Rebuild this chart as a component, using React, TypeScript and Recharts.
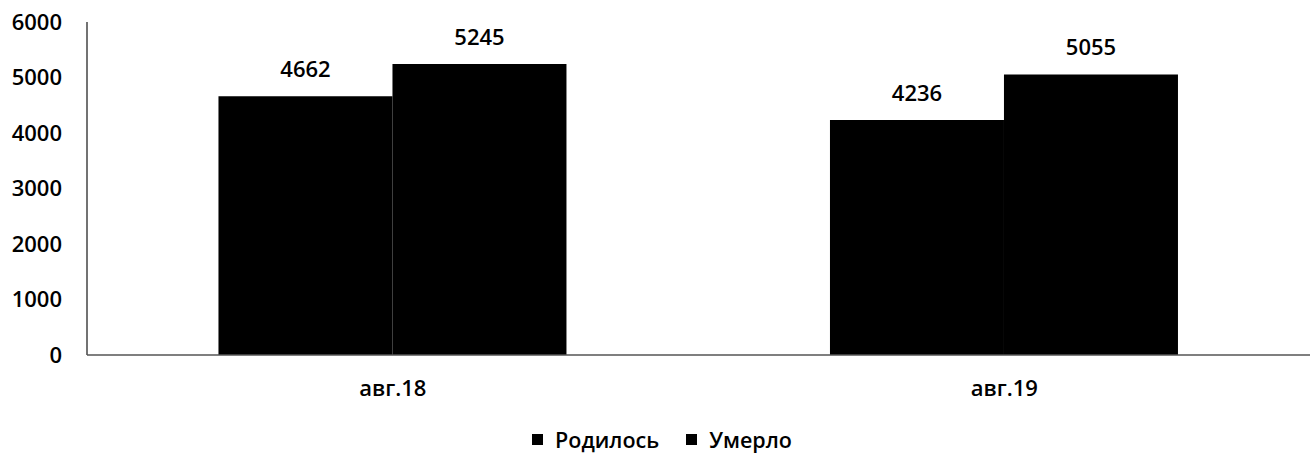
import { Bar, BarChart, LabelList, Legend, XAxis, YAxis } from "recharts"

const months = ["авг.18", "авг.19"]
const born = [4662, 4236]
const died = [5245, 5055]
const yTicks = [0, 1000, 2000, 3000, 4000, 5000, 6000]

const seriesNames = { born: "Родилось", died: "Умерло" }

const data = months.map((month, i) => ({ month, born: born[i], died: died[i] }))

const font = "'Open Sans', 'DejaVu Sans', sans-serif"

function LegendBox() {
  return (
    <div style={{ display: "flex", justifyContent: "center", alignItems: "center", paddingLeft: 14, fontFamily: font, fontSize: 21.5, fontWeight: 600, color: "#000" }}>
      {[seriesNames.born, seriesNames.died].map((name, i) => (
        <div key={name} style={{ display: "flex", alignItems: "center", marginRight: i === 0 ? 27 : 0 }}>
          <div style={{ width: 11, height: 11, background: "#000", marginRight: 12 }} />
          <span>{name}</span>
        </div>
      ))}
    </div>
  )
}

export default function App() {
  return (
    <div style={{ position: "absolute", left: 0, top: 0, width: 1314, height: 459, background: "#fff" }}>
      <BarChart
        width={1314}
        height={459}
        data={data}
        margin={{ top: 22, right: 4, left: 0, bottom: 0 }}
        barCategoryGap="21.5%"
        barGap={0}
      >
        <YAxis
          width={87}
          domain={[0, 6000]}
          ticks={yTicks}
          interval={0}
          tickSize={0}
          tickMargin={25}
          axisLine={{ stroke: "#444", strokeWidth: 1.5 }}
          tick={{ fill: "#000", fontFamily: font, fontSize: 22, fontWeight: 600 }}
        />
        <XAxis
          dataKey="month"
          height={70}
          tickSize={0}
          tickMargin={25}
          axisLine={{ stroke: "#555", strokeWidth: 1.5 }}
          tick={{ fill: "#000", fontFamily: font, fontSize: 22, fontWeight: 600 }}
        />
        <Legend verticalAlign="bottom" height={34} content={<LegendBox />} />
        <Bar dataKey="born" name={seriesNames.born} fill="#000" isAnimationActive={false}>
          <LabelList dataKey="born" position="top" offset={19} fill="#000" fontFamily={font} fontSize={22} fontWeight={600} />
        </Bar>
        <Bar dataKey="died" name={seriesNames.died} fill="#000" isAnimationActive={false}>
          <LabelList dataKey="died" position="top" offset={19} fill="#000" fontFamily={font} fontSize={22} fontWeight={600} />
        </Bar>
      </BarChart>
    </div>
  )
}
